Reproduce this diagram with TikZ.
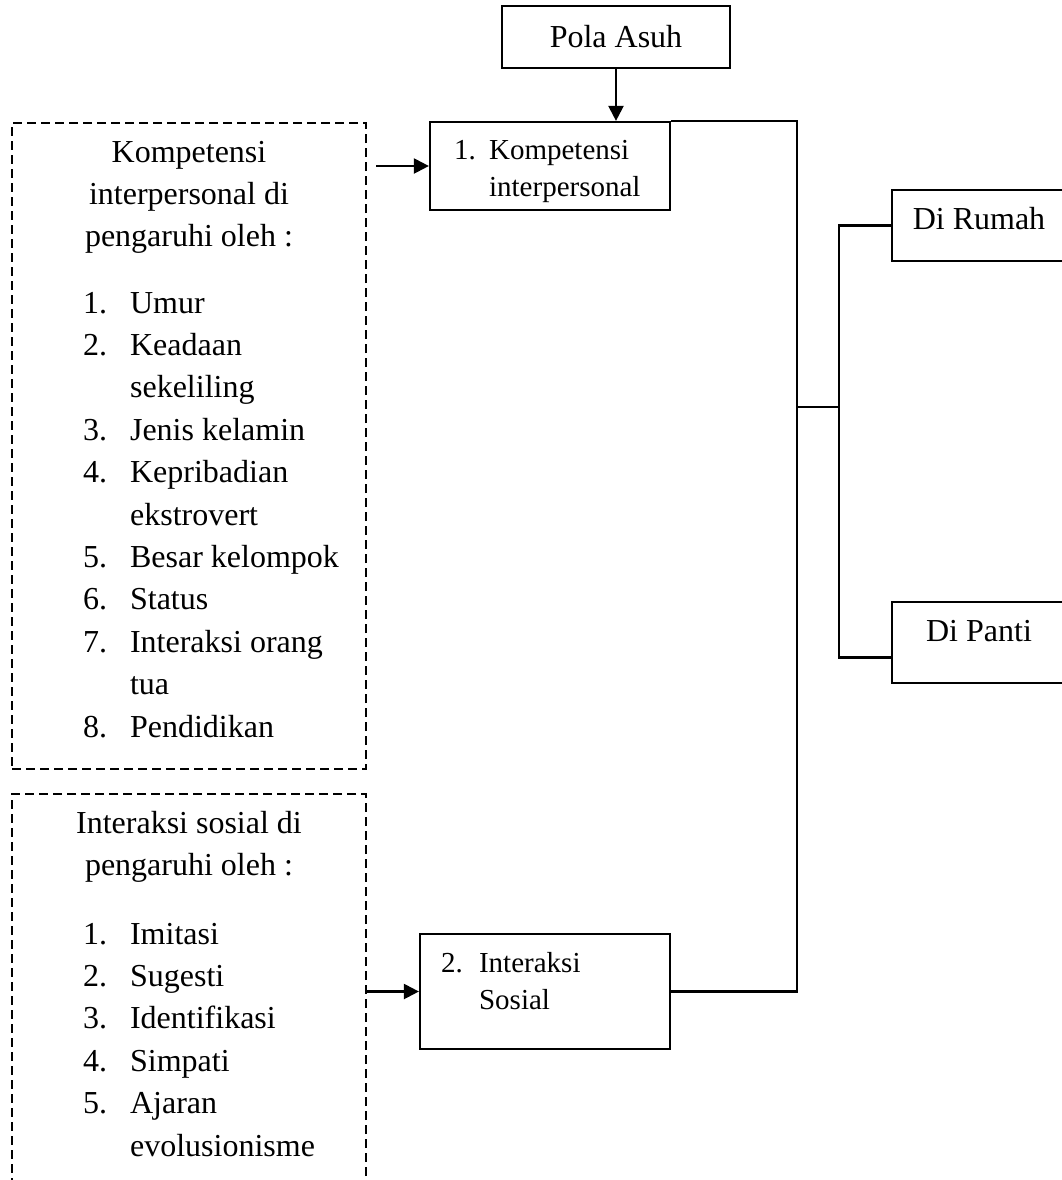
\documentclass[tikz,border=0pt]{standalone}
\usepackage{fontspec}
\setmainfont{Liberation Serif}
\usepackage{tikz}
\usetikzlibrary{arrows.meta}

\begin{document}
\begin{tikzpicture}[x=.5pt, y=-.5pt, line width=1.1pt,
  box/.style={draw, rectangle, inner sep=0pt},
  faktor/.style={draw, rectangle, inner sep=0pt, dash pattern=on 4.5pt off 2.5pt},
  arr/.style={-{Triangle[length=7.5pt, width=7.5pt]}},
  big/.style={font=\fontsize{16}{21.2}\selectfont, inner sep=0pt},
  small/.style={font=\fontsize{14.5}{18.75}\selectfont, inner sep=0pt}]
  \path[use as bounding box, clip] (0,0) rectangle (1062,1180);
  \node [box, big, minimum width=114pt, minimum height=31pt] (pola) at (616,37) {Pola Asuh};
  \node [box, minimum width=120pt, minimum height=44pt] (komp) at (550,166) {};
  \node [small, anchor=base west] (kompteks) at (453,159) {\begin{tabular}[t]{@{}p{17.5pt}@{}l@{}}1.&Kompetensi\\&interpersonal\end{tabular}};
  \node [box, minimum width=125pt, minimum height=57.5pt] (inter) at (545,991.5) {};
  \node [small, anchor=base west] (interteks) at (440,972) {\begin{tabular}[t]{@{}p{19pt}@{}l@{}}2.&Interaksi\\&Sosial\end{tabular}};
  \node [box, minimum width=87pt, minimum height=35.5pt] (rumah) at (979,225.5) {};
  \node [big, anchor=base] (rumahteks) at (979,229) {Di Rumah};
  \node [box, minimum width=87pt, minimum height=40.5pt] (panti) at (979,642.5) {};
  \node [big, anchor=base] (pantiteks) at (979,641) {Di Panti};
  \node [faktor, minimum width=177pt, minimum height=323pt] (kfaktor) at (189,446) {};
  \node [big, anchor=base] (kjudul) at (189,162) {\begin{tabular}[t]{@{}c@{}}Kompetensi\\interpersonal di\\pengaruhi oleh :\end{tabular}};
  \node [big, anchor=base west] (kdaftar) at (82,313) {\begin{tabular}[t]{@{}p{23.5pt}@{}l@{}}1.&Umur\\2.&Keadaan\\&sekeliling\\3.&Jenis kelamin\\4.&Kepribadian\\&ekstrovert\\5.&Besar kelompok\\6.&Status\\7.&Interaksi orang\\&tua\\8.&Pendidikan\end{tabular}};
  \node [faktor, minimum width=177pt, minimum height=203pt] (ifaktor) at (189,997) {};
  \node [big, anchor=base] (ijudul) at (189,833) {\begin{tabular}[t]{@{}c@{}}Interaksi sosial di\\pengaruhi oleh :\end{tabular}};
  \node [big, anchor=base west] (idaftar) at (82,944) {\begin{tabular}[t]{@{}p{23.5pt}@{}l@{}}1.&Imitasi\\2.&Sugesti\\3.&Identifikasi\\4.&Simpati\\5.&Ajaran\\&evolusionisme\end{tabular}};
  \coordinate (trunk) at (797,407);
  \coordinate (fork) at (839,407);
  \draw [arr] (pola.south) -- (pola.south |- komp.north);
  \draw (komp.north east) -| (trunk) |- (inter.east);
  \draw (trunk) -- (fork);
  \draw (rumah.west) -| (fork) |- ([yshift=-7.5pt]panti.west);
  \draw [arr, shorten <=4.5pt] (kfaktor.east |- komp.west) -- (komp.west);
  \draw [arr] (ifaktor.east |- inter.west) -- (inter.west);
\end{tikzpicture}
\end{document}
